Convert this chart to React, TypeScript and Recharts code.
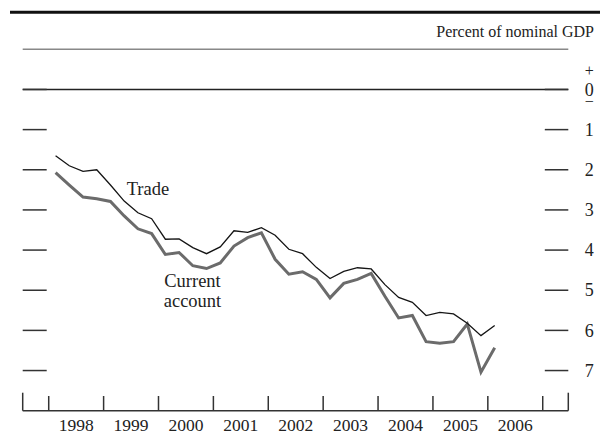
import { LineChart, Line, XAxis, YAxis, ReferenceLine } from 'recharts';

const FONT = '"Liberation Serif", "Times New Roman", serif';

// quarterly, 1998Q1 - 2006Q1
const quarters = [
  '1998Q1', '1998Q2', '1998Q3', '1998Q4', '1999Q1', '1999Q2', '1999Q3', '1999Q4',
  '2000Q1', '2000Q2', '2000Q3', '2000Q4', '2001Q1', '2001Q2', '2001Q3', '2001Q4',
  '2002Q1', '2002Q2', '2002Q3', '2002Q4', '2003Q1', '2003Q2', '2003Q3', '2003Q4',
  '2004Q1', '2004Q2', '2004Q3', '2004Q4', '2005Q1', '2005Q2', '2005Q3', '2005Q4',
  '2006Q1',
];

// percent of nominal GDP
const trade = [
  -1.65, -1.9, -2.04, -2.0, -2.38, -2.78, -3.07, -3.22,
  -3.73, -3.72, -3.94, -4.09, -3.92, -3.52, -3.56, -3.44,
  -3.63, -3.98, -4.09, -4.43, -4.71, -4.53, -4.44, -4.47,
  -4.86, -5.18, -5.3, -5.63, -5.55, -5.59, -5.82, -6.13,
  -5.88,
];

const currentAccount = [
  -2.07, -2.38, -2.68, -2.72, -2.79, -3.15, -3.47, -3.59,
  -4.11, -4.06, -4.39, -4.46, -4.32, -3.9, -3.69, -3.57,
  -4.23, -4.6, -4.54, -4.73, -5.19, -4.83, -4.73, -4.58,
  -5.15, -5.69, -5.63, -6.28, -6.32, -6.28, -5.84, -7.04,
  -6.43,
];

const years = ['1998', '1999', '2000', '2001', '2002', '2003', '2004', '2005', '2006'];
const yearEdges = [1998, 1999, 2000, 2001, 2002, 2003, 2004, 2005, 2006, 2007];
const yTicks = [0, -1, -2, -3, -4, -5, -6, -7];

const X_DOMAIN: [number, number] = [1997.526, 2007.466];
const Y_DOMAIN: [number, number] = [-8, 1];

const data = quarters.map((q, i) => ({
  q,
  t: Number(q.slice(0, 4)) + (Number(q.slice(5)) - 0.5) / 4,
  trade: trade[i],
  ca: currentAccount[i],
}));

const textStyle = { fontFamily: FONT, fill: '#222' };

function RightTick({ x, y, payload }: any) {
  const v = payload.value as number;
  const tx = x + 21;
  return (
    <g>
      <line x1={x - 23.5} x2={x} y1={y} y2={y} stroke="#333" strokeWidth={1.5} />
      {v === 0 ? (
        // +/0/− stacked in one text
        <text textAnchor="middle" {...textStyle}>
          <tspan x={tx} y={y - 13} fontSize={16}>+</tspan>
          <tspan x={tx} y={y + 6.2} fontSize={18}>0</tspan>
          <tspan x={tx} y={y + 18} fontSize={16}>−</tspan>
        </text>
      ) : (
        <text x={tx} y={y} dy={6.2} textAnchor="middle" fontSize={18} {...textStyle}>
          {Math.abs(v)}
        </text>
      )}
    </g>
  );
}

function LeftTick({ x, y }: any) {
  return <line x1={x} x2={x + 24} y1={y} y2={y} stroke="#333" strokeWidth={1.5} />;
}

function YearTick({ x, y, payload }: any) {
  const label = years[Math.floor(payload.value) - 1998];
  return (
    <text x={x} y={y} dy={20.5} textAnchor="middle" fontSize={17.5} {...textStyle}>
      {label}
    </text>
  );
}

export default function App() {
  return (
    <div style={{ position: 'absolute', left: 0, top: 0, width: 600, height: 435, background: '#fff' }}>
      <LineChart
        width={600}
        height={435}
        data={data}
        margin={{ top: 49.3, right: 0, bottom: 0, left: 0 }}
      >
        <XAxis
          type="number"
          dataKey="t"
          domain={X_DOMAIN}
          allowDataOverflow
          ticks={years.map((y) => Number(y) + 0.5)}
          interval={0}
          height={24.3}
          tickLine={false}
          tickSize={0}
          tickMargin={0}
          axisLine={{ stroke: '#333', strokeWidth: 1.5 }}
          tick={<YearTick />}
        />
        <YAxis
          yAxisId="r"
          orientation="right"
          domain={Y_DOMAIN}
          allowDataOverflow
          ticks={yTicks}
          interval={0}
          width={31.7}
          tickLine={false}
          tickSize={0}
          tickMargin={0}
          axisLine={false}
          tick={<RightTick />}
        />
        <YAxis
          yAxisId="l"
          orientation="left"
          domain={Y_DOMAIN}
          allowDataOverflow
          ticks={yTicks}
          interval={0}
          width={22.7}
          tickLine={false}
          tickSize={0}
          tickMargin={0}
          axisLine={false}
          tick={<LeftTick />}
        />
        <ReferenceLine yAxisId="r" y={1} stroke="#888" strokeWidth={1.5} />
        <ReferenceLine yAxisId="r" y={0} stroke="#222" strokeWidth={1.5} />
        {yearEdges.map((e) => (
          <ReferenceLine
            key={e}
            yAxisId="r"
            segment={[{ x: e, y: -8 }, { x: e, y: -7.634 }]}
            stroke="#333"
            strokeWidth={1.5}
          />
        ))}
        {X_DOMAIN.map((e) => (
          <ReferenceLine
            key={'f' + e}
            yAxisId="r"
            segment={[{ x: e, y: -8 }, { x: e, y: -7.552 }]}
            stroke="#333"
            strokeWidth={1.5}
          />
        ))}
        <Line
          yAxisId="r"
          type="linear"
          dataKey="ca"
          stroke="#6b6b6b"
          strokeWidth={3}
          dot={false}
          isAnimationActive={false}
        />
        <Line
          yAxisId="r"
          type="linear"
          dataKey="trade"
          stroke="#151515"
          strokeWidth={1.3}
          dot={false}
          isAnimationActive={false}
        />
      </LineChart>
      <svg
        width={600}
        height={435}
        style={{ position: 'absolute', left: 0, top: 0, pointerEvents: 'none' }}
      >
        <line x1={10} x2={600} y1={12.3} y2={12.3} stroke="#111" strokeWidth={3} />
        <text x={594} y={36.7} textAnchor="end" fontSize={16} {...textStyle}>
          Percent of nominal GDP
        </text>
        <text x={126.7} y={195} fontSize={18.5} {...textStyle}>Trade</text>
        <text x={192.5} y={286.5} textAnchor="middle" fontSize={18.5} {...textStyle}>Current</text>
        <text x={192.5} y={306.5} textAnchor="middle" fontSize={18.5} {...textStyle}>account</text>
      </svg>
    </div>
  );
}
